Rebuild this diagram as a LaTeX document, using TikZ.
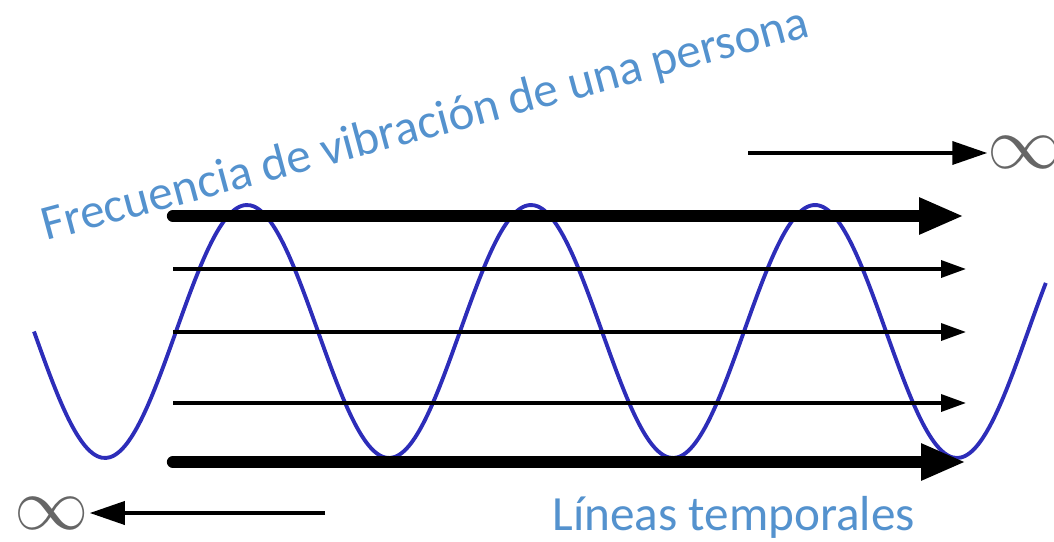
\documentclass[tikz,border=0pt]{standalone}
\usepackage{fontspec}
\setmainfont{Carlito}
\usetikzlibrary{arrows.meta,positioning,calc}

\definecolor{textblue}{RGB}{84,146,206}
\definecolor{waveblue}{RGB}{45,45,185}

\begin{document}
\begin{tikzpicture}[
    wave/.style={waveblue, line width=2.2pt},
    timeline/.style={line width=2pt, -{Triangle[length=0.5cm, width=0.34cm]}},
    mainline/.style={line width=7pt, line cap=round, -{Triangle[length=0.9cm, width=0.68cm]}},
    infarrow/.style={line width=2.1pt, -{Triangle[length=0.7cm, width=0.46cm]}},
    infsym/.style={black!60, inner sep=0pt, scale=1.7, transform shape,
        font=\fontsize{24.88}{25}\selectfont},
    label/.style={textblue, inner sep=0pt, font=\fontsize{28}{28}\selectfont}
]
\useasboundingbox (0,0) rectangle (21.08,10.82);

% Wave: frequency of vibration
\draw[wave] plot[domain=0.68:20.92, samples=240, smooth]
    (\x, {4.19 - 2.53*cos(360*(\x-2.1)/5.68)});

% Time lines: start and end points
\coordinate (l1s) at (3.46, 6.5);   \coordinate (l1e) at (19.28, 6.5);
\coordinate (l2s) at (3.46, 5.44);  \coordinate (l2e) at (19.32, 5.44);
\coordinate (l3s) at (3.46, 4.18);  \coordinate (l3e) at (19.32, 4.18);
\coordinate (l4s) at (3.46, 2.76);  \coordinate (l4e) at (19.32, 2.76);
\coordinate (l5s) at (3.46, 1.58);  \coordinate (l5e) at (19.32, 1.58);

\draw[mainline] (l1s) -- (l1e);
\draw[timeline] (l2s) -- (l2e);
\draw[timeline] (l3s) -- (l3e);
\draw[timeline] (l4s) -- (l4e);
\draw[mainline] (l5s) -- (l5e);

% Infinity: future and past
\node[infsym] (infright) at (20.5, 7.76) {$\infty$};
\node[infsym] (infleft) at (1.04, 0.56) {$\infty$};
\coordinate (fstart) at (14.96, 7.76);
\coordinate (pstart) at (6.5, 0.56);
\draw[infarrow] (fstart) -- (infright);
\draw[infarrow] (pstart) -- (infleft);

% Labels
\node[label, rotate=15, anchor=base west] (freq) at (0.92, 6.0)
    {Frecuencia de vibración de una persona};
\node[label, anchor=base west] (lines) at (11.04, 0.22) {Líneas temporales};

\end{tikzpicture}
\end{document}
